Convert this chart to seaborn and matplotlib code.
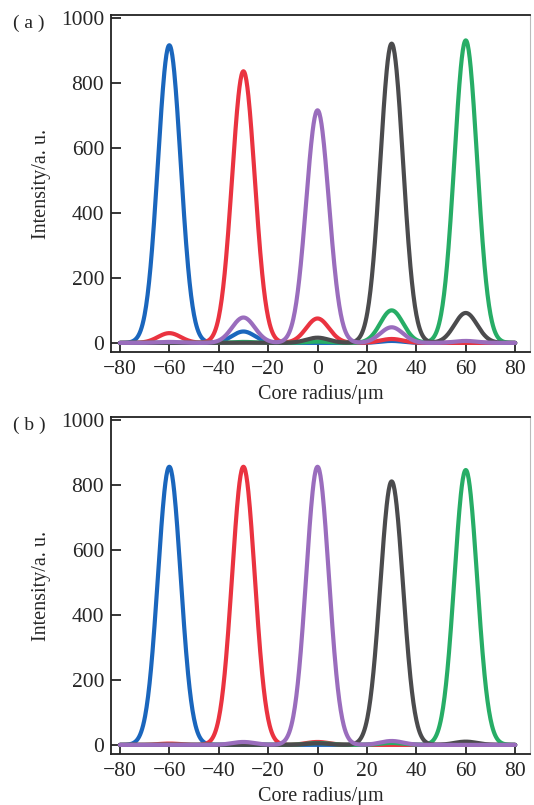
import numpy as np
import pandas as pd
import matplotlib.pyplot as plt
import seaborn as sns

# core positions (um) and peak intensity of each output at every core
cores = [-60, -30, 0, 30, 60]
series = ["blue", "red", "green", "gray", "purple"]
colors = {"blue": "#1a66bd", "red": "#ea3340", "green": "#27ad66",
          "gray": "#4b4b4d", "purple": "#9a6dbd"}

# panel (a)
blue_a = [915, 35, 0, 6, 0]
red_a = [30, 835, 75, 12, 0]
green_a = [0, 3, 4, 100, 930]
gray_a = [0, 0, 16, 920, 92]
purple_a = [3, 78, 715, 48, 6]

# panel (b)
blue_b = [855, 0, 0, 4, 0]
red_b = [4, 855, 9, 0, 0]
green_b = [0, 2, 6, 6, 845]
gray_b = [0, 0, 5, 810, 10]
purple_b = [0, 9, 855, 12, 0]

sigma = 4.6
x = np.linspace(-80, 80, 801)


def build(amps):
    rows = []
    for name, a in zip(series, amps):
        y = np.zeros_like(x)
        for c, h in zip(cores, a):
            y += h * np.exp(-0.5 * ((x - c) / sigma) ** 2)
        rows.append(pd.DataFrame({"x": x, "y": y, "s": name}))
    return pd.concat(rows, ignore_index=True)


df_a = build([blue_a, red_a, green_a, gray_a, purple_a])
df_b = build([blue_b, red_b, green_b, gray_b, purple_b])

sns.set_style("ticks")
plt.rcParams["font.family"] = ["Liberation Serif", "DejaVu Serif"]

fig = plt.figure(figsize=(5.34, 8.05), dpi=100)
W, H = 534, 805
boxes = [(111, 15, 530, 352), (111, 417, 530, 754)]

for df, box, tag in zip([df_a, df_b], boxes, ["( a )", "( b )"]):
    l, t, r, b = box
    ax = fig.add_axes([l / W, 1 - b / H, (r - l) / W, (b - t) / H])
    sns.lineplot(data=df, x="x", y="y", hue="s", palette=colors,
                 hue_order=series, lw=3, legend=False, ax=ax,
                 estimator=None, sort=False)
    ax.set_xlim(-83.6, 86)
    ax.set_ylim(-28, 1008)
    ax.set_xticks(range(-80, 81, 20))
    ax.set_xticklabels([str(v).replace("-", "\u2212") for v in range(-80, 81, 20)])
    ax.set_yticks(range(0, 1001, 200))
    ax.tick_params(direction="in", length=7, width=1.3, labelsize=15.5, pad=5)
    ax.tick_params(axis="x", pad=6)
    ax.set_xlabel("Core radius/\u03bcm", fontsize=14.5, labelpad=4)
    ax.set_ylabel("Intensity/a. u.", fontsize=14.5, labelpad=7)
    for side in ["left", "bottom", "top"]:
        ax.spines[side].set_linewidth(1.3)
        ax.spines[side].set_color("#222222")
    ax.spines["right"].set_color("#bbbbbb")
    ax.spines["right"].set_linewidth(0.8)
    fig.text(13 / W, 1 - (t + 8) / H, tag, fontsize=14, va="center", ha="left")

fig.savefig("out.png", dpi=100)
